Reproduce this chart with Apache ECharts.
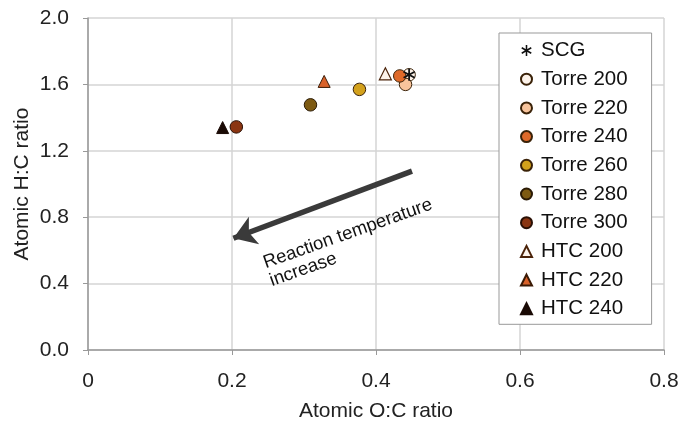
<!DOCTYPE html>
<html>
<head>
<meta charset="utf-8">
<script src="https://cdn.jsdelivr.net/npm/echarts@6/dist/echarts.min.js"></script>
<style>
  html, body { margin: 0; padding: 0; background: #fff; }
  #main { width: 687px; height: 421px; }
</style>
</head>
<body>
<div id="main"></div>
<script>
  // sample names, O:C and H:C
  const names = ['SCG', 'Torre 200', 'Torre 220', 'Torre 240', 'Torre 260', 'Torre 280', 'Torre 300', 'HTC 200', 'HTC 220', 'HTC 240']
  const ocRatio = [0.446, 0.446, 0.441, 0.433, 0.377, 0.309, 0.206, 0.413, 0.328, 0.187]
  const hcRatio = [1.658, 1.658, 1.600, 1.651, 1.570, 1.477, 1.344, 1.664, 1.618, 1.340]
  const xTicks = [0, 0.2, 0.4, 0.6, 0.8]
  const yTicks = [0, 0.4, 0.8, 1.2, 1.6, 2.0]
  const arrowFrom = [0.450, 1.078]
  const arrowTo = [0.202, 0.673]
  const noteText = 'Reaction temperature\nincrease'

  const asterisk = 'path://M4.3 0L5.7 0L5.7 10L4.3 10Z M0.32 6.89L8.98 1.89L9.68 3.11L1.02 8.11Z M1.02 1.89L9.68 6.89L8.98 8.11L0.32 3.11Z'
  const looks = {
    'SCG': { symbol: asterisk, fill: '#111', border: '#111', bw: 0, size: 12 },
    'Torre 200': { symbol: 'circle', fill: '#fdf3ea', border: '#3a2208', bw: 1, size: 12.5 },
    'Torre 220': { symbol: 'circle', fill: '#f8c49c', border: '#3a2208', bw: 1, size: 12.5 },
    'Torre 240': { symbol: 'circle', fill: '#df6a2a', border: '#3a2208', bw: 1, size: 12.5 },
    'Torre 260': { symbol: 'circle', fill: '#d3a11c', border: '#3a2208', bw: 1, size: 12.5 },
    'Torre 280': { symbol: 'circle', fill: '#7d5a12', border: '#2a1a05', bw: 1, size: 12.5 },
    'Torre 300': { symbol: 'circle', fill: '#8a3512', border: '#2a1005', bw: 1, size: 12.5 },
    'HTC 200': { symbol: 'triangle', fill: '#fdf3ea', border: '#4a2208', bw: 1.2, size: 12 },
    'HTC 220': { symbol: 'triangle', fill: '#d9622a', border: '#3a1a05', bw: 1, size: 12 },
    'HTC 240': { symbol: 'triangle', fill: '#1a0a05', border: '#1a0a05', bw: 1, size: 12 }
  }

  const font = '"Liberation Sans", Arial, sans-serif'
  const chart = echarts.init(document.getElementById('main'))

  const series = names.map(function (n, i) {
    const l = looks[n]
    return {
      name: n,
      type: 'scatter',
      data: [[ocRatio[i], hcRatio[i]]],
      symbol: l.symbol,
      symbolSize: l.size,
      z: n === 'SCG' ? 5 : 2,
      itemStyle: { color: l.fill, borderColor: l.border, borderWidth: l.bw, opacity: 1 }
    }
  })

  series.push({
    type: 'lines',
    coordinateSystem: 'cartesian2d',
    silent: true,
    z: 3,
    symbol: ['none', 'arrow'],
    symbolSize: 22,
    lineStyle: { color: '#3a3a3a', width: 5.5, opacity: 1 },
    data: [{ coords: [arrowFrom, arrowTo] }]
  })

  chart.setOption({
    animation: false,
    grid: { left: 88, right: 23, top: 18, bottom: 71, outerBoundsMode: 'none', containLabel: false },
    xAxis: {
      type: 'value',
      min: xTicks[0],
      max: xTicks[xTicks.length - 1],
      interval: 0.2,
      name: 'Atomic O:C ratio',
      nameLocation: 'middle',
      nameGap: 51,
      nameMoveOverlap: false,
      nameTextStyle: { fontFamily: font, fontSize: 21, color: '#222' },
      axisLine: { show: true, onZero: false, lineStyle: { color: '#999', width: 1.5 } },
      axisTick: { show: true, length: 5, lineStyle: { color: '#999' } },
      axisLabel: { fontFamily: font, fontSize: 21, color: '#222', margin: 21 },
      splitLine: { show: true, lineStyle: { color: '#d4d4d4', width: 1.5 } }
    },
    yAxis: {
      type: 'value',
      min: yTicks[0],
      max: yTicks[yTicks.length - 1],
      interval: 0.4,
      name: 'Atomic H:C ratio',
      nameLocation: 'middle',
      nameGap: 55,
      nameMoveOverlap: false,
      nameTextStyle: { fontFamily: font, fontSize: 21, color: '#222' },
      axisLine: { show: true, lineStyle: { color: '#999', width: 1.5 } },
      axisTick: { show: true, length: 5, lineStyle: { color: '#999' } },
      axisLabel: {
        fontFamily: font, fontSize: 21, color: '#222', margin: 19,
        formatter: function (v) { return v.toFixed(1) }
      },
      splitLine: { show: true, lineStyle: { color: '#d4d4d4', width: 1.5 } }
    },
    legend: {
      orient: 'vertical',
      left: 499,
      top: 33,
      data: names,
      itemWidth: 11,
      itemHeight: 11,
      itemGap: 7.7,
      padding: [7, 24, 5, 21],
      borderColor: '#999',
      borderWidth: 1,
      backgroundColor: '#fff',
      textStyle: { fontFamily: font, fontSize: 20.5, color: '#111', lineHeight: 21, padding: [0, 0, 0, 4] },
      selectedMode: false
    },
    series: series
  })

  // annotation text placed from data coordinates
  const notePos = chart.convertToPixel({ gridIndex: 0 }, [0.240, 0.575])
  chart.setOption({
    graphic: [{
      type: 'text',
      x: notePos[0],
      y: notePos[1],
      rotation: 19.5 * Math.PI / 180,
      style: {
        text: noteText,
        fontFamily: font,
        fontSize: 18.5,
        lineHeight: 19,
        fill: '#111',
        textAlign: 'left',
        textVerticalAlign: 'top'
      }
    }]
  })

  window.addEventListener('resize', function () {
    chart.resize()
  })
</script>
</body>
</html>
